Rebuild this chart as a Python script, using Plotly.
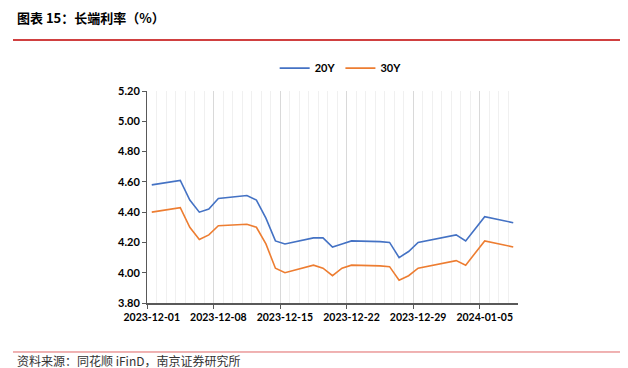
import plotly.graph_objects as go

dates = ["2023-12-01", "2023-12-04", "2023-12-05", "2023-12-06", "2023-12-07", "2023-12-08",
         "2023-12-11", "2023-12-12", "2023-12-13", "2023-12-14", "2023-12-15",
         "2023-12-18", "2023-12-19", "2023-12-20", "2023-12-21", "2023-12-22",
         "2023-12-25", "2023-12-26", "2023-12-27", "2023-12-28", "2023-12-29",
         "2024-01-02", "2024-01-03", "2024-01-04", "2024-01-05", "2024-01-08"]
y20 = [4.58, 4.61, 4.48, 4.40, 4.42, 4.49,
       4.51, 4.48, 4.36, 4.21, 4.19,
       4.23, 4.23, 4.17, 4.19, 4.21,
       4.205, 4.20, 4.10, 4.14, 4.20,
       4.25, 4.21, 4.29, 4.37, 4.33]
y30 = [4.40, 4.43, 4.30, 4.22, 4.25, 4.31,
       4.32, 4.30, 4.19, 4.03, 4.00,
       4.05, 4.03, 3.98, 4.03, 4.05,
       4.045, 4.04, 3.95, 3.98, 4.03,
       4.08, 4.05, 4.13, 4.21, 4.17]
tick_dates = ["2023-12-01", "2023-12-08", "2023-12-15", "2023-12-22", "2023-12-29", "2024-01-05"]
y_ticks = [3.80, 4.00, 4.20, 4.40, 4.60, 4.80, 5.00, 5.20]

title = "图表 15：长端利率（%）"
source = "资料来源：同花顺 iFinD，南京证券研究所"

x_range = ["2023-11-30 12:00", "2024-01-08 12:00"]
DAY = 86400000
lab_font = dict(family="Lato, Open Sans, sans-serif", size=11, color="#000000", weight="bold")
xlab_font = dict(family="Lato, Open Sans, sans-serif", size=10.5, color="#000000", weight="bold")

fig = go.Figure()
fig.add_trace(go.Scatter(x=dates, y=y20, mode="lines", name="20Y",
                         line=dict(color="#4472C4", width=1.6)))
fig.add_trace(go.Scatter(x=dates, y=y30, mode="lines", name="30Y",
                         line=dict(color="#ED7D31", width=1.6)))
# invisible trace to carry the label axis
fig.add_trace(go.Scatter(x=tick_dates, y=[None] * len(tick_dates), xaxis="x2",
                         mode="lines", showlegend=False, hoverinfo="skip"))

fig.update_layout(
    width=620, height=360,
    margin=dict(l=139, r=110, t=83, b=65, autoexpand=False),
    paper_bgcolor="white", plot_bgcolor="white",
    showlegend=True,
    legend=dict(orientation="h", x=0.522, y=1.108, xanchor="center", yanchor="middle",
                font=lab_font, itemwidth=30, tracegroupgap=0,
                bgcolor="rgba(0,0,0,0)"),
    xaxis=dict(type="date", range=x_range, tick0="2023-11-30 12:00", dtick=7 * DAY,
               showticklabels=False, showgrid=True, gridcolor="#D9D9D9", gridwidth=1,
               ticks="outside", ticklen=4, tickcolor="#595959",
               showline=True, linecolor="#595959", linewidth=1.5, zeroline=False,
               minor=dict(tick0="2023-11-30 12:00", dtick=DAY, showgrid=True,
                          gridcolor="#F0F0F0", gridwidth=1)),
    xaxis2=dict(type="date", range=x_range, overlaying="x", anchor="y", side="bottom",
                tickvals=tick_dates, ticktext=tick_dates, ticks="",
                showgrid=False, showline=False, zeroline=False,
                tickfont=xlab_font, ticklabelstandoff=6),
    yaxis=dict(range=[3.80, 5.20], tickvals=y_ticks, tickformat=".2f",
               showgrid=False, zeroline=False, showline=True, linecolor="#595959",
               linewidth=1, ticks="outside", ticklen=4, tickcolor="#595959",
               tickfont=lab_font),
)

fig.add_annotation(text=title, xref="paper", yref="paper", x=-0.355, y=1.349,
                   xanchor="left", yanchor="middle", showarrow=False,
                   font=dict(family="Noto Sans CJK SC", size=13, color="#000000", weight="bold"))
fig.add_annotation(text=source, xref="paper", yref="paper", x=-0.355, y=-0.272,
                   xanchor="left", yanchor="middle", showarrow=False,
                   font=dict(family="Noto Sans CJK SC", size=12, color="#333333"))
fig.add_shape(type="line", xref="paper", yref="paper", x0=-0.3612, x1=1.2965,
              y0=1.2406, y1=1.2406, line=dict(color="#C00000", width=1.5))
fig.add_shape(type="line", xref="paper", yref="paper", x0=-0.3612, x1=1.2965,
              y0=-0.2311, y1=-0.2311, line=dict(color="#E06666", width=1))

fig.write_html("out.html")
